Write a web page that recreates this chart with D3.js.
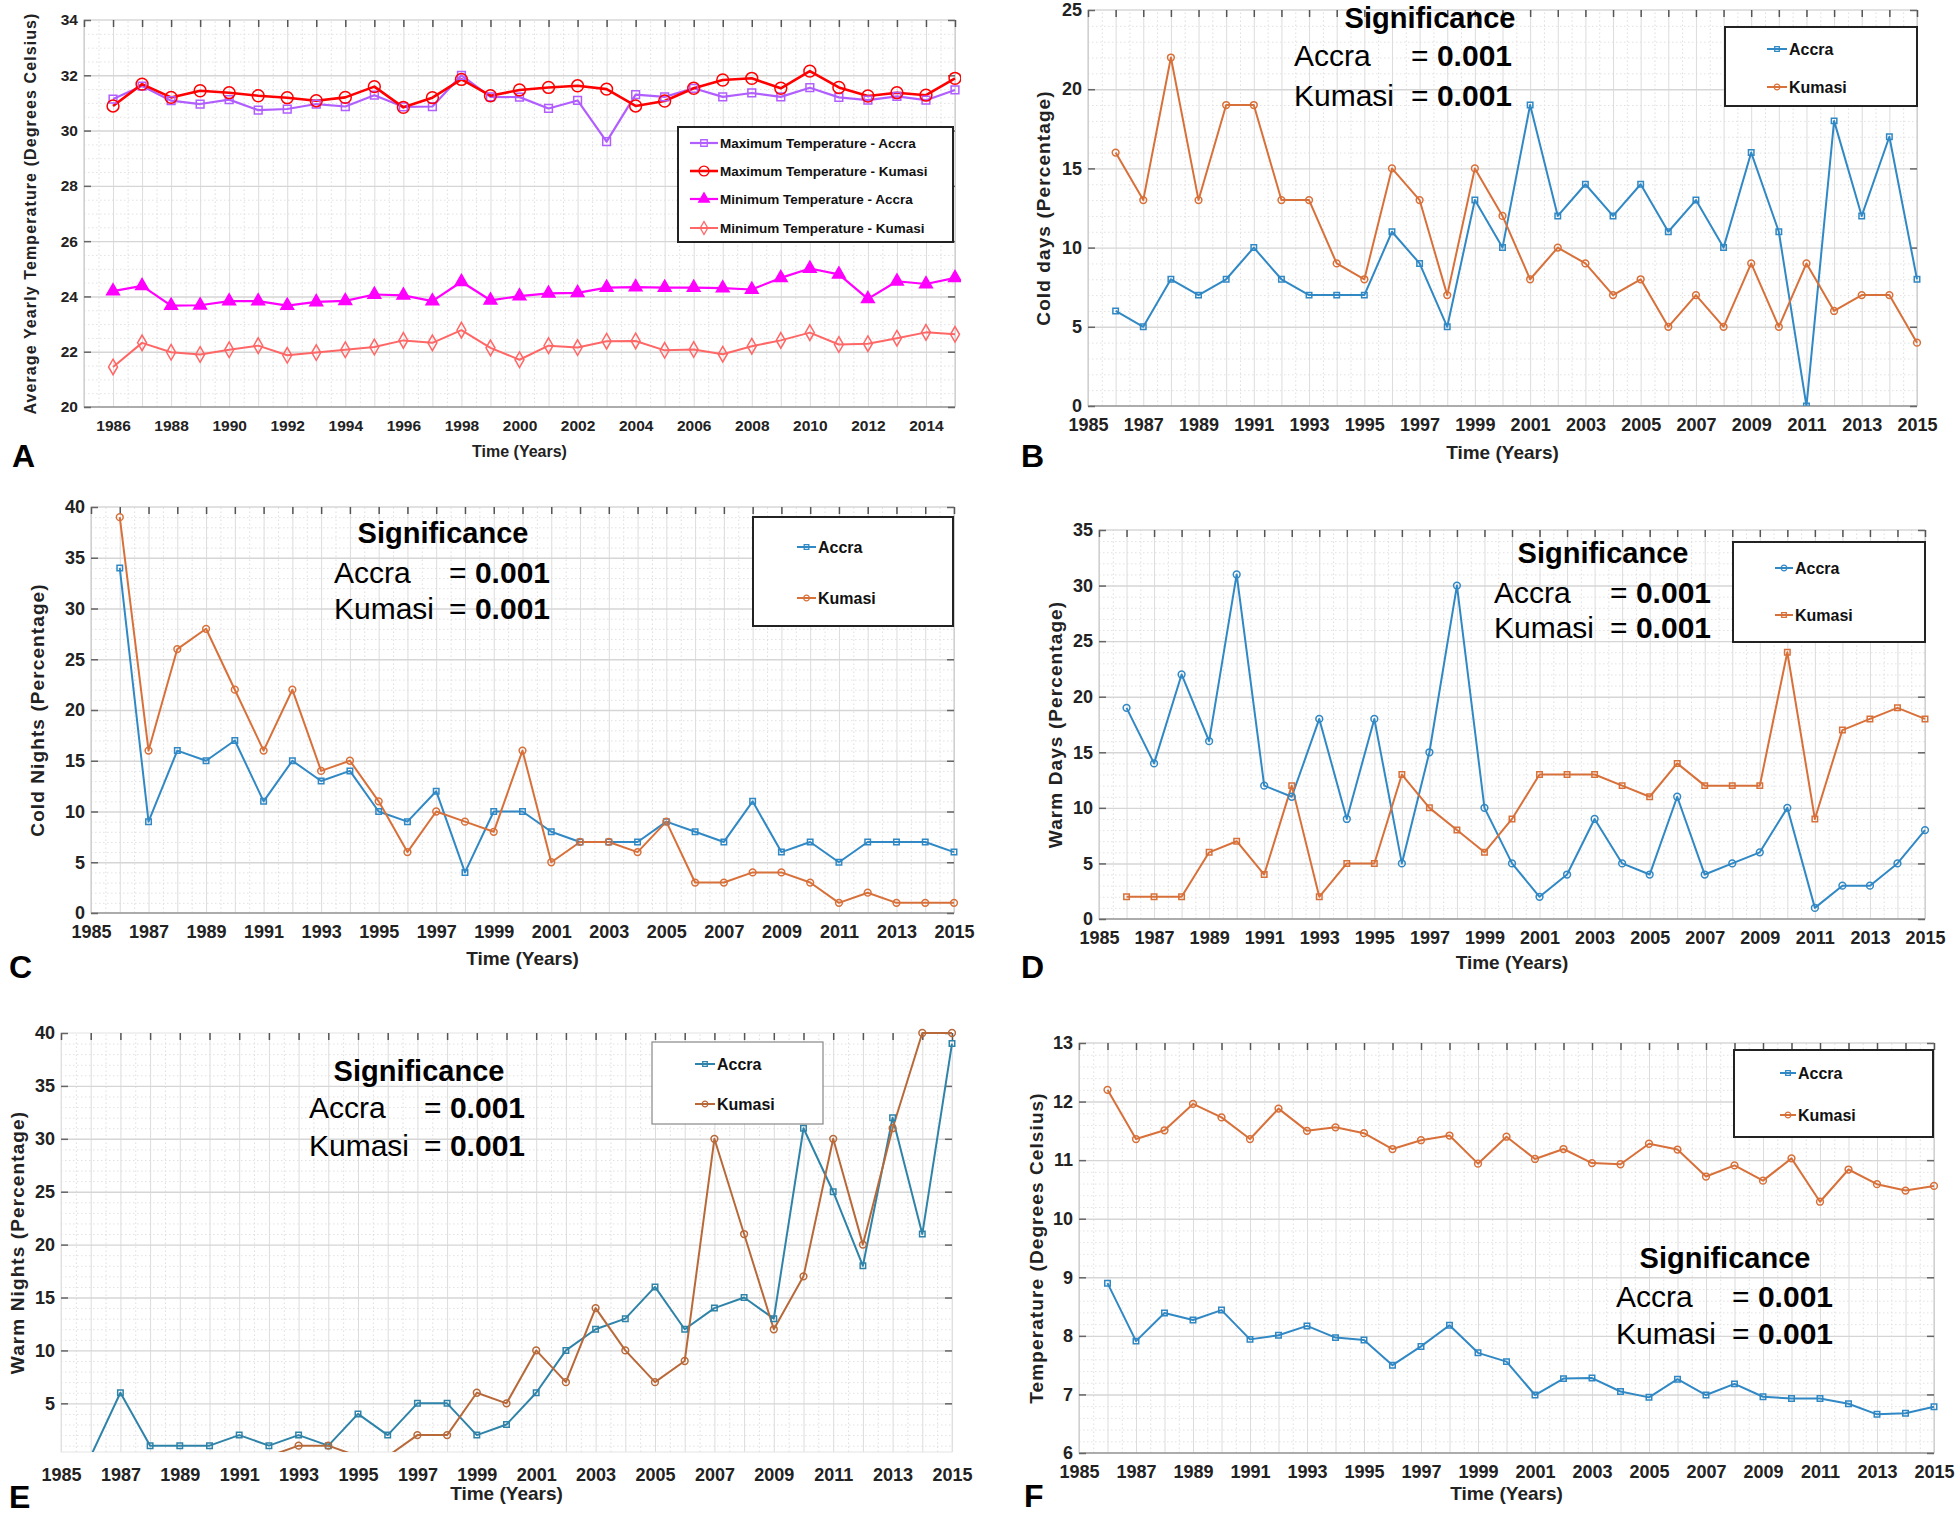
<!DOCTYPE html>
<html>
<head>
<meta charset="utf-8">
<script src="https://cdn.jsdelivr.net/npm/d3@7"></script>
<style>
  body { margin: 0; background: #fff; }
  svg { display: block; }
  text { font-family: "Liberation Sans", Arial, sans-serif; }
</style>
</head>
<body>
<div class="chart"></div>
<script>
// Chart size
const width = 1959;
const height = 1526;

// Data
const years = [1986, 1987, 1988, 1989, 1990, 1991, 1992, 1993, 1994, 1995, 1996, 1997, 1998, 1999, 2000,
               2001, 2002, 2003, 2004, 2005, 2006, 2007, 2008, 2009, 2010, 2011, 2012, 2013, 2014, 2015];
const gridYears = [1985, ...years];
const yearLabelsA = [1986, 1988, 1990, 1992, 1994, 1996, 1998, 2000, 2002, 2004, 2006, 2008, 2010, 2012, 2014];
const yearLabels = [1985, 1987, 1989, 1991, 1993, 1995, 1997, 1999, 2001, 2003, 2005, 2007, 2009, 2011, 2013, 2015];

const maxTempAccra = [31.14, 31.61, 31.08, 30.96, 31.12, 30.74, 30.78, 30.96, 30.87, 31.28, 30.86, 30.87, 32.0, 31.22, 31.21,
                      30.80, 31.09, 29.6, 31.30, 31.22, 31.53, 31.22, 31.36, 31.22, 31.55, 31.2, 31.1, 31.24, 31.1, 31.47];
const maxTempKumasi = [30.89, 31.68, 31.2, 31.44, 31.37, 31.26, 31.19, 31.08, 31.2, 31.59, 30.84, 31.19, 31.85, 31.26, 31.47,
                       31.56, 31.62, 31.5, 30.89, 31.07, 31.53, 31.83, 31.89, 31.53, 32.15, 31.56, 31.25, 31.37, 31.28, 31.89];
const minTempAccra = [24.19, 24.38, 23.67, 23.68, 23.83, 23.83, 23.67, 23.8, 23.84, 24.07, 24.04, 23.83, 24.53, 23.86, 24.01,
                      24.11, 24.13, 24.32, 24.34, 24.32, 24.32, 24.30, 24.25, 24.67, 25.01, 24.8, 23.91, 24.55, 24.45, 24.67];
const minTempKumasi = [21.45, 22.32, 21.98, 21.9, 22.07, 22.22, 21.87, 21.97, 22.07, 22.17, 22.41, 22.32, 22.78, 22.14, 21.71,
                       22.22, 22.15, 22.38, 22.39, 22.05, 22.08, 21.91, 22.2, 22.41, 22.69, 22.26, 22.29, 22.49, 22.7, 22.63];

const coldDaysAccra = [6, 5, 8, 7, 8, 10, 8, 7, 7, 7, 11, 9, 5, 13, 10, 19, 12, 14, 12, 14, 11, 13, 10, 16, 11, 0, 18, 12, 17, 8];
const coldDaysKumasi = [16, 13, 22, 13, 19, 19, 13, 13, 9, 8, 15, 13, 7, 15, 12, 8, 10, 9, 7, 8, 5, 7, 5, 9, 5, 9, 6, 7, 7, 4];

const coldNightsAccra = [34, 9, 16, 15, 17, 11, 15, 13, 14, 10, 9, 12, 4, 10, 10, 8, 7, 7, 7, 9, 8, 7, 11, 6, 7, 5, 7, 7, 7, 6];
const coldNightsKumasi = [39, 16, 26, 28, 22, 16, 22, 14, 15, 11, 6, 10, 9, 8, 16, 5, 7, 7, 6, 9, 3, 3, 4, 4, 3, 1, 2, 1, 1, 1];

const warmDaysAccra = [19, 14, 22, 16, 31, 12, 11, 18, 9, 18, 5, 15, 30, 10, 5, 2, 4, 9, 5, 4, 11, 4, 5, 6, 10, 1, 3, 3, 5, 8];
const warmDaysKumasi = [2, 2, 2, 6, 7, 4, 12, 2, 5, 5, 13, 10, 8, 6, 9, 13, 13, 13, 12, 11, 14, 12, 12, 12, 24, 9, 17, 18, 19, 18];

const warmNightsAccra = [0, 6, 1, 1, 1, 2, 1, 2, 1, 4, 2, 5, 5, 2, 3, 6, 10, 12, 13, 16, 12, 14, 15, 13, 31, 25, 18, 32, 21, 39];
const warmNightsKumasi = [0, 0, 0, 0, 0, 0, 0, 1, 1, 0, 0, 2, 2, 6, 5, 10, 7, 14, 10, 7, 9, 30, 21, 12, 17, 30, 20, 31, 40, 40];

const dtrAccra = [8.9, 7.91, 8.39, 8.27, 8.44, 7.94, 8.01, 8.17, 7.97, 7.93, 7.5, 7.82, 8.18, 7.71, 7.56,
                  6.99, 7.27, 7.28, 7.05, 6.95, 7.26, 6.99, 7.18, 6.96, 6.93, 6.93, 6.84, 6.66, 6.68, 6.79];
const dtrKumasi = [12.2, 11.36, 11.51, 11.96, 11.73, 11.36, 11.88, 11.5, 11.56, 11.46, 11.19, 11.34, 11.42, 10.94, 11.4,
                   11.02, 11.19, 10.95, 10.93, 11.28, 11.18, 10.72, 10.91, 10.65, 11.03, 10.29, 10.84, 10.59, 10.48, 10.56];

const ticksA = [20, 22, 24, 26, 28, 30, 32, 34];
const ticksB = [0, 5, 10, 15, 20, 25];
const ticksC = [0, 5, 10, 15, 20, 25, 30, 35, 40];
const ticksD = [0, 5, 10, 15, 20, 25, 30, 35];
const ticksE = [5, 10, 15, 20, 25, 30, 35, 40];
const ticksF = [6, 7, 8, 9, 10, 11, 12, 13];

// Colours
const blue = '#3088c4', orange = '#d8703a';
const blueE = '#2f83a8', orangeE = '#b8693a';

const svg = d3.select('.chart').append('svg')
    .attr('width', width)
    .attr('height', height);

const panels = [
  {
    id: 'A', left: 84, right: 955, top: 20, bottom: 407, yDomain: [20, 34], yTicks: ticksA, yMinor: 0.5,
    xLabels: yearLabelsA, tickFont: 15.5, xPad: 13,
    yTitle: 'Average Yearly Temperature (Degrees Celsius)', yTitleX: 30, yTitleSize: 16,
    xTitleY: 457, xTitleSize: 16, letter: [12, 467],
    series: [
      {name: 'Maximum Temperature - Accra', values: maxTempAccra, color: '#b15eff', symbol: d3.symbolSquare, size: 60, fill: 'none', width: 2.2},
      {name: 'Maximum Temperature - Kumasi', values: maxTempKumasi, color: '#ff0000', symbol: d3.symbolCircle, size: 110, fill: 'none', width: 2.6},
      {name: 'Minimum Temperature - Accra', values: minTempAccra, color: '#ff00ff', symbol: d3.symbolTriangle, size: 70, fill: '#ff00ff', width: 2.2},
      {name: 'Minimum Temperature - Kumasi', values: minTempKumasi, color: '#ff6666', symbol: d3.symbolDiamond, size: 70, fill: 'none', width: 2}
    ],
    legend: {x0: 678, y0: 127, x1: 953, y1: 242, rows: [143, 171, 199, 228], lx0: 690, lx1: 718, tx: 720, fs: 13.5}
  },
  {
    id: 'B', left: 1088, right: 1917, top: 10, bottom: 406, yDomain: [0, 25], yTicks: ticksB, yMinor: 1,
    xLabels: yearLabels, tickFont: 18, xPad: 12,
    yTitle: 'Cold days (Percentage)', yTitleX: 1043, yTitleSize: 19,
    xTitleY: 459, xTitleSize: 19, letter: [1021, 467],
    series: [
      {name: 'Accra', values: coldDaysAccra, color: blue, symbol: d3.symbolSquare, size: 30, fill: 'none', width: 2},
      {name: 'Kumasi', values: coldDaysKumasi, color: orange, symbol: d3.symbolCircle, size: 36, fill: 'none', width: 2}
    ],
    legend: {x0: 1725, y0: 27, x1: 1917, y1: 106, rows: [49, 87], lx0: 1767, lx1: 1787, tx: 1789, fs: 16},
    note: {cx: 1430, sigY: 28, x0: 1294, x1: 1512, y1: 66, y2: 106}
  },
  {
    id: 'C', left: 91, right: 954, top: 507, bottom: 913, yDomain: [0, 40], yTicks: ticksC, yMinor: 1,
    xLabels: yearLabels, tickFont: 18, xPad: 12,
    yTitle: 'Cold Nights (Percentage)', yTitleX: 37, yTitleSize: 19,
    xTitleY: 965, xTitleSize: 19, letter: [9, 978],
    series: [
      {name: 'Accra', values: coldNightsAccra, color: blue, symbol: d3.symbolSquare, size: 30, fill: 'none', width: 2},
      {name: 'Kumasi', values: coldNightsKumasi, color: orange, symbol: d3.symbolCircle, size: 36, fill: 'none', width: 2}
    ],
    legend: {x0: 753, y0: 517, x1: 953, y1: 626, rows: [547, 598], lx0: 797, lx1: 816, tx: 818, fs: 16},
    note: {cx: 443, sigY: 543, x0: 334, x1: 550, y1: 583, y2: 619}
  },
  {
    id: 'D', left: 1099, right: 1925, top: 530, bottom: 919, yDomain: [0, 35], yTicks: ticksD, yMinor: 1,
    xLabels: yearLabels, tickFont: 18, xPad: 12,
    yTitle: 'Warm Days (Percentage)', yTitleX: 1055, yTitleSize: 19,
    xTitleY: 969, xTitleSize: 19, letter: [1021, 978],
    series: [
      {name: 'Accra', values: warmDaysAccra, color: blue, symbol: d3.symbolCircle, size: 36, fill: 'none', width: 2},
      {name: 'Kumasi', values: warmDaysKumasi, color: orange, symbol: d3.symbolSquare, size: 30, fill: 'none', width: 2}
    ],
    legend: {x0: 1733, y0: 542, x1: 1925, y1: 642, rows: [568, 615], lx0: 1775, lx1: 1793, tx: 1795, fs: 16},
    note: {cx: 1603, sigY: 563, x0: 1494, x1: 1711, y1: 603, y2: 638}
  },
  {
    id: 'E', left: 61, right: 952, top: 1033, bottom: 1452, yDomain: [0.4, 40], yTicks: ticksE, yMinor: 1,
    xLabels: yearLabels, tickFont: 18, xPad: 16,
    yTitle: 'Warm Nights (Percentage)', yTitleX: 17, yTitleSize: 19,
    xTitleY: 1500, xTitleSize: 19, letter: [9, 1508], lightFrame: true,
    series: [
      {name: 'Accra', values: warmNightsAccra, color: blueE, symbol: d3.symbolSquare, size: 30, fill: 'none', width: 2},
      {name: 'Kumasi', values: warmNightsKumasi, color: orangeE, symbol: d3.symbolCircle, size: 36, fill: 'none', width: 2}
    ],
    legend: {x0: 652, y0: 1042, x1: 823, y1: 1124, rows: [1064, 1104], lx0: 695, lx1: 715, tx: 717, fs: 16, light: true},
    note: {cx: 419, sigY: 1081, x0: 309, x1: 525, y1: 1118, y2: 1156}
  },
  {
    id: 'F', left: 1079, right: 1934, top: 1043, bottom: 1453, yDomain: [6, 13], yTicks: ticksF, yMinor: 0.2,
    xLabels: yearLabels, tickFont: 18, xPad: 12,
    yTitle: 'Temperature (Degrees Celsius)', yTitleX: 1036, yTitleSize: 19,
    xTitleY: 1500, xTitleSize: 19, letter: [1024, 1507],
    series: [
      {name: 'Accra', values: dtrAccra, color: blue, symbol: d3.symbolSquare, size: 30, fill: 'none', width: 2},
      {name: 'Kumasi', values: dtrKumasi, color: orange, symbol: d3.symbolCircle, size: 36, fill: 'none', width: 2}
    ],
    legend: {x0: 1734, y0: 1050, x1: 1933, y1: 1137, rows: [1073, 1115], lx0: 1780, lx1: 1796, tx: 1798, fs: 16},
    note: {cx: 1725, sigY: 1268, x0: 1616, x1: 1833, y1: 1307, y2: 1344}
  }
];

function drawPanel(p) {
  const x = d3.scaleLinear().domain([1985, 2015]).range([p.left, p.right]);
  const y = d3.scaleLinear().domain(p.yDomain).range([p.bottom, p.top]);
  const innerW = p.right - p.left;
  const innerH = p.bottom - p.top;
  const g = svg.append('g');

  // Minor grid (dotted)
  const xMinor = d3.range(1985, 2015, 0.5).filter(v => v % 1 !== 0);
  const yMinor = d3.range(Math.ceil(p.yDomain[0] / p.yMinor) * p.yMinor, p.yDomain[1], p.yMinor)
      .filter(v => !p.yTicks.some(t => Math.abs(t - v) < 1e-6));
  g.append('g')
      .attr('transform', `translate(0, ${p.bottom})`)
      .call(d3.axisBottom(x).tickValues(xMinor).tickSize(-innerH).tickFormat(''))
      .call(a => a.select('.domain').remove())
      .call(a => a.selectAll('.tick line').attr('stroke', '#dedede').attr('stroke-dasharray', '1.5,2.5'));
  g.append('g')
      .attr('transform', `translate(${p.left}, 0)`)
      .call(d3.axisLeft(y).tickValues(yMinor).tickSize(-innerW).tickFormat(''))
      .call(a => a.select('.domain').remove())
      .call(a => a.selectAll('.tick line').attr('stroke', '#e2e2e2').attr('stroke-dasharray', '1.5,2.5'));

  // Major grid
  g.append('g')
      .attr('transform', `translate(0, ${p.bottom})`)
      .call(d3.axisBottom(x).tickValues(gridYears).tickSize(-innerH).tickFormat(''))
      .call(a => a.select('.domain').remove())
      .call(a => a.selectAll('.tick line').attr('stroke', '#dcdcdc'));
  g.append('g')
      .attr('transform', `translate(${p.left}, 0)`)
      .call(d3.axisLeft(y).tickValues(p.yTicks.filter(t => t > p.yDomain[0] && t < p.yDomain[1])).tickSize(-innerW).tickFormat(''))
      .call(a => a.select('.domain').remove())
      .call(a => a.selectAll('.tick line').attr('stroke', '#d6d6d6').attr('stroke-width', 1.4));

  // Frame
  g.append('rect')
      .attr('x', p.left).attr('y', p.top)
      .attr('width', innerW).attr('height', innerH)
      .attr('fill', 'none')
      .attr('stroke', p.lightFrame ? '#e4e4e4' : '#c4c4c4');
  if (!p.lightFrame) {
    g.append('line')
        .attr('x1', p.left).attr('x2', p.right)
        .attr('y1', p.bottom).attr('y2', p.bottom)
        .attr('stroke', '#9a9a9a').attr('stroke-width', 1.5);
  }

  // Inward tick marks (top, left, right)
  g.append('g')
      .attr('transform', `translate(0, ${p.top})`)
      .call(d3.axisTop(x).tickValues(gridYears).tickSize(-7).tickFormat(''))
      .call(a => a.select('.domain').remove())
      .call(a => a.selectAll('.tick line').attr('stroke', '#555').attr('stroke-width', 1.5));
  g.append('g')
      .attr('transform', `translate(${p.left}, 0)`)
      .call(d3.axisLeft(y).tickValues(p.yTicks).tickSize(-7).tickFormat(''))
      .call(a => a.select('.domain').remove())
      .call(a => a.selectAll('.tick line').attr('stroke', '#666').attr('stroke-width', 1.5));
  g.append('g')
      .attr('transform', `translate(${p.right}, 0)`)
      .call(d3.axisRight(y).tickValues(p.yTicks).tickSize(-7).tickFormat(''))
      .call(a => a.select('.domain').remove())
      .call(a => a.selectAll('.tick line').attr('stroke', '#666').attr('stroke-width', 1.5));

  // Tick labels
  const labelStyle = a => a.selectAll('text')
      .attr('font-size', p.tickFont).attr('font-weight', 'bold')
      .attr('fill', '#222').style('font-family', '"Liberation Sans", Arial, sans-serif');
  g.append('g')
      .attr('transform', `translate(0, ${p.bottom})`)
      .call(d3.axisBottom(x).tickValues(p.xLabels).tickFormat(d3.format('d')).tickSize(0).tickPadding(p.xPad))
      .call(a => a.select('.domain').remove())
      .call(labelStyle);
  g.append('g')
      .attr('transform', `translate(${p.left}, 0)`)
      .call(d3.axisLeft(y).tickValues(p.yTicks).tickFormat(d3.format('~g')).tickSize(0).tickPadding(6))
      .call(a => a.select('.domain').remove())
      .call(labelStyle);

  // Axis titles
  g.append('text')
      .attr('transform', `translate(${p.yTitleX}, ${(p.top + p.bottom) / 2}) rotate(-90)`)
      .attr('text-anchor', 'middle')
      .attr('dominant-baseline', 'central')
      .attr('font-size', p.yTitleSize)
      .attr('font-weight', 'bold')
      .attr('letter-spacing', 1.1)
      .attr('fill', '#222')
      .text(p.yTitle);
  g.append('text')
      .attr('x', (p.left + p.right) / 2)
      .attr('y', p.xTitleY)
      .attr('text-anchor', 'middle')
      .attr('font-size', p.xTitleSize)
      .attr('font-weight', 'bold')
      .attr('fill', '#222')
      .text('Time (Years)');

  // Panel letter
  svg.append('text')
      .attr('x', p.letter[0]).attr('y', p.letter[1])
      .attr('font-size', 32).attr('font-weight', 'bold')
      .attr('fill', '#000')
      .text(p.id);

  // Series (clipped to plot area)
  const clipId = `clip-${p.id}`;
  svg.append('clipPath').attr('id', clipId)
    .append('rect')
      .attr('x', p.left - 6).attr('y', p.top - 6)
      .attr('width', innerW + 12).attr('height', innerH + 6);

  const plot = g.append('g').attr('clip-path', `url(#${clipId})`);
  const lineGen = d3.line()
      .x((d, i) => x(years[i]))
      .y(d => y(d));

  p.series.forEach(s => {
    plot.append('path')
        .datum(s.values)
        .attr('fill', 'none')
        .attr('stroke', s.color)
        .attr('stroke-width', s.width)
        .attr('stroke-linejoin', 'round')
        .attr('d', lineGen);
  });

  p.series.forEach(s => {
    plot.append('g')
      .selectAll('path')
      .data(s.values.map((v, i) => ({year: years[i], v})).filter(d => d.v >= p.yDomain[0]))
      .join('path')
        .attr('transform', d => `translate(${x(d.year)}, ${y(d.v)})`)
        .attr('d', d3.symbol(s.symbol, s.size)())
        .attr('fill', s.fill)
        .attr('stroke', s.color)
        .attr('stroke-width', 1.5);
  });

  // Legend
  const L = p.legend;
  const lg = svg.append('g');
  lg.append('rect')
      .attr('x', L.x0).attr('y', L.y0)
      .attr('width', L.x1 - L.x0).attr('height', L.y1 - L.y0)
      .attr('fill', '#fff')
      .attr('stroke', L.light ? '#888' : '#222')
      .attr('stroke-width', L.light ? 1.2 : 2);
  p.series.forEach((s, i) => {
    const ry = L.rows[i];
    lg.append('line')
        .attr('x1', L.lx0).attr('x2', L.lx1)
        .attr('y1', ry).attr('y2', ry)
        .attr('stroke', s.color)
        .attr('stroke-width', s.width);
    lg.append('path')
        .attr('transform', `translate(${(L.lx0 + L.lx1) / 2}, ${ry})`)
        .attr('d', d3.symbol(s.symbol, s.size * 0.7)())
        .attr('fill', s.fill)
        .attr('stroke', s.color)
        .attr('stroke-width', 1.3);
    lg.append('text')
        .attr('x', L.tx).attr('y', ry)
        .attr('dominant-baseline', 'central')
        .attr('font-size', L.fs)
        .attr('font-weight', 'bold')
        .attr('fill', '#111')
        .text(s.name);
  });

  // Significance note
  const n = p.note;
  if (n) {
    const ng = svg.append('g').attr('fill', '#000');
    ng.append('text')
        .attr('x', n.cx).attr('y', n.sigY)
        .attr('text-anchor', 'middle')
        .attr('font-size', 29).attr('font-weight', 'bold')
        .text('Significance');
    [['Accra', n.y1], ['Kumasi', n.y2]].forEach(([name, ny]) => {
      ng.append('text')
          .attr('x', n.x0).attr('y', ny)
          .attr('font-size', 30)
          .text(name);
      const t = ng.append('text')
          .attr('x', n.x1).attr('y', ny)
          .attr('text-anchor', 'end')
          .attr('font-size', 30);
      t.append('tspan').text('= ');
      t.append('tspan').attr('font-weight', 'bold').text('0.001');
    });
  }
}

panels.forEach(drawPanel);
</script>
</body>
</html>
